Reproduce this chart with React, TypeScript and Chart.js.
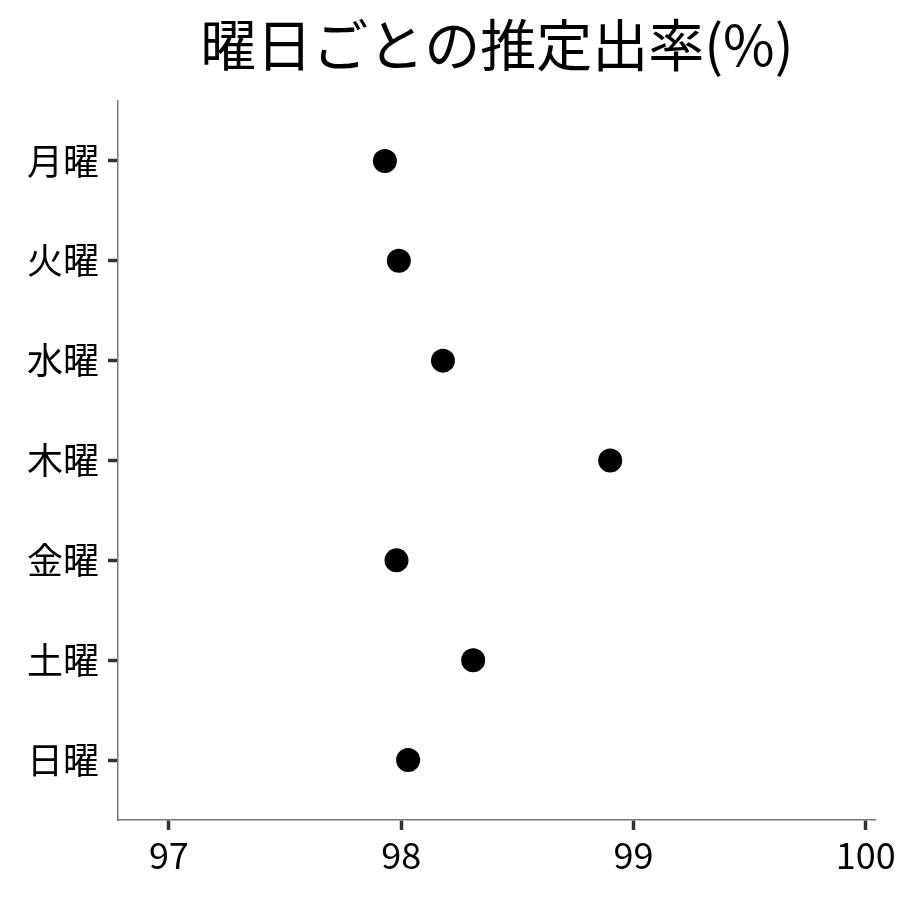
import { useEffect, useRef } from 'react';
import { Chart, registerables } from 'chart.js';

Chart.register(...registerables);

const days = ['月曜', '火曜', '水曜', '木曜', '金曜', '土曜', '日曜'];
const rates = [97.93, 97.99, 98.18, 98.9, 97.98, 98.31, 98.03];
const xTicks = [97, 98, 99, 100];
const title = '曜日ごとの推定出率(%)';

const FONT = "'Noto Sans CJK JP', 'Noto Sans', sans-serif";

// title centred over the plot panel, not over the whole canvas
const panelTitle = {
	id: 'panelTitle',
	afterDraw(chart: Chart) {
		const { ctx, chartArea } = chart;
		ctx.save();
		ctx.font = `56px ${FONT}`;
		ctx.fillStyle = '#000';
		ctx.textAlign = 'center';
		ctx.textBaseline = 'middle';
		ctx.fillText(title, (chartArea.left + chartArea.right) / 2, 45);
		ctx.restore();
	},
};

const App = () => {
	const chartRef = useRef<HTMLCanvasElement>(null);

	useEffect(() => {
		document.body.style.margin = '0';
		const ctx = chartRef.current?.getContext('2d');
		if (!ctx) return;

		const chart = new Chart(ctx, {
			type: 'scatter',
			data: {
				datasets: [
					{
						data: rates.map((v, i) => ({ x: v, y: i })),
						backgroundColor: '#000',
						borderWidth: 0,
						pointRadius: 12,
						pointHoverRadius: 12,
					},
				],
			},
			plugins: [panelTitle],
			options: {
				animation: false,
				responsive: false,
				layout: { padding: { top: 101, right: 23, left: 0, bottom: 0 } },
				plugins: {
					legend: { display: false },
					tooltip: { enabled: false },
				},
				scales: {
					x: {
						type: 'linear',
						min: 96.781,
						max: 100.043,
						afterBuildTicks: (axis) => {
							axis.ticks = xTicks.map((v) => ({ value: v }));
						},
						afterFit: (axis) => {
							axis.height = 80;
						},
						grid: {
							drawOnChartArea: false,
							drawTicks: true,
							tickLength: 10,
							tickColor: '#333',
							tickWidth: 3.5,
						},
						border: { color: '#777', width: 1.5 },
						ticks: {
							padding: 4,
							color: '#000',
							font: { family: FONT, size: 36 },
							callback: (v) => String(v),
						},
					},
					y: {
						type: 'linear',
						reverse: true,
						min: -0.6,
						max: 6.6,
						afterBuildTicks: (axis) => {
							axis.ticks = days.map((_, i) => ({ value: i }));
						},
						afterFit: (axis) => {
							axis.width = 118;
						},
						grid: {
							drawOnChartArea: false,
							drawTicks: true,
							tickLength: 10,
							tickColor: '#333',
							tickWidth: 3.5,
						},
						border: { color: '#777', width: 1.5 },
						ticks: {
							padding: 9,
							color: '#000',
							font: { family: FONT, size: 36 },
							callback: (v) => days[Number(v)] ?? '',
						},
					},
				},
			},
		});

		return () => {
			chart.destroy();
		};
	}, []);

	return (
		<div style={{ width: 900, height: 900, background: '#fff' }}>
			<canvas ref={chartRef} width={900} height={900} />
		</div>
	);
};

export default App;
